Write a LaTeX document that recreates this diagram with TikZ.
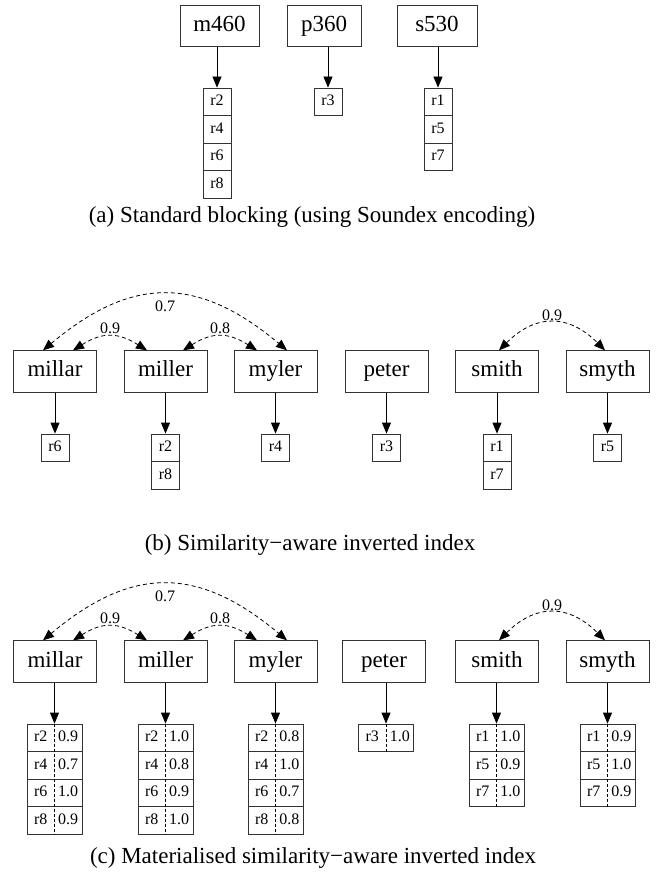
\documentclass[tikz,border=0pt]{standalone}
\usepackage{fontspec}
\setmainfont{Liberation Serif}
\usetikzlibrary{calc,arrows.meta}
\tikzset{>={Triangle[length=5.5pt,width=4.5pt]}}
\tikzset{
  key/.style={draw=black!80,minimum width=41.5pt,minimum height=20.75pt,
    inner sep=0pt,text height=8pt,text depth=2.5pt,
    font=\fontsize{11.5}{13}\selectfont},
  rec/.style={draw=black!80,minimum width=14pt,minimum height=13.75pt,
    inner sep=0pt,text height=5.5pt,text depth=1.6pt,
    font=\fontsize{8}{9}\selectfont},
  wrec/.style={rec,minimum width=27.5pt},
  sim/.style={<->,dash pattern=on 2pt off 1.5pt},
  wt/.style={inner sep=1pt,font=\fontsize{8}{9}\selectfont},
  subcap/.style={font=\fontsize{11.5}{13}\selectfont}
}
\newcommand{\recw}[2]{\makebox[13.75pt]{#1}\makebox[13.75pt]{#2}}

\begin{document}
\begin{tikzpicture}[x=0.5pt,y=-0.5pt]
\useasboundingbox (0,0) rectangle (662,876);
% (a) standard blocking
\node[key,minimum width=39.5pt] (m460) at (219.5,26) {m460};
\node[key,minimum width=37pt]   (p360) at (324,26) {p360};
\node[key,minimum width=40pt]   (s530) at (437,26) {s530};
\node[rec] (a-m1) at (217,101.75) {r2};
\node[rec] (a-m2) at (217,129.25) {r4};
\node[rec] (a-m3) at (217,156.75) {r6};
\node[rec] (a-m4) at (217,184.25) {r8};
\node[rec] (a-p1) at (328,101.75) {r3};
\node[rec] (a-s1) at (438,101.75) {r1};
\node[rec] (a-s2) at (438,129.25) {r5};
\node[rec] (a-s3) at (438,156.75) {r7};
\draw[->] (m460.south -| a-m1.north) -- (a-m1.north);
\draw[->] (p360.south -| a-p1.north) -- (a-p1.north);
\draw[->] (s530.south -| a-s1.north) -- (a-s1.north);
\node[subcap] (cap-a) at (312,217) {(a) Standard blocking (using Soundex encoding)};

% (b) similarity-aware inverted index
\node[key] (b-millar) at (55,371.5) {millar};
\node[key] (b-miller) at (165.5,371.5) {miller};
\node[key] (b-myler)  at (275.5,371.5) {myler};
\node[key] (b-peter)  at (386.5,371.5) {peter};
\node[key] (b-smith)  at (497,371.5) {smith};
\node[key] (b-smyth)  at (607.5,371.5) {smyth};
\node[rec] (b-millar-1) at (55,447.75) {r6};
\node[rec] (b-miller-1) at (165.5,447.75) {r2};
\node[rec] (b-miller-2) at (165.5,475.25) {r8};
\node[rec] (b-myler-1)  at (275.5,447.75) {r4};
\node[rec] (b-peter-1)  at (386.5,447.75) {r3};
\node[rec] (b-smith-1)  at (497,447.75) {r1};
\node[rec] (b-smith-2)  at (497,475.25) {r7};
\node[rec] (b-smyth-1)  at (607.5,447.75) {r5};
\draw[->] (b-millar) -- (b-millar-1);
\draw[->] (b-miller) -- (b-miller-1);
\draw[->] (b-myler) -- (b-myler-1);
\draw[->] (b-peter) -- (b-peter-1);
\draw[->] (b-smith) -- (b-smith-1);
\draw[->] (b-smyth) -- (b-smyth-1);
\draw[sim] ([xshift=-6pt]b-millar.north) to[out=40,in=140,looseness=1.22]
  node[wt,below=2pt] (b-w07) {0.7} ([xshift=5.75pt]b-myler.north);
\draw[sim] ([xshift=9pt]b-millar.north) to[out=32,in=148,looseness=1.2]
  node[wt,above] (b-w09) {0.9} ([xshift=-9.25pt]b-miller.north);
\draw[sim] ([xshift=8.75pt]b-miller.north) to[out=32,in=148,looseness=1.2]
  node[wt,above] (b-w08) {0.8} ([xshift=-9.25pt]b-myler.north);
\draw[sim] ([xshift=1pt]b-smith.north) to[out=45,in=135,looseness=1.25]
  node[wt,above] (b-w09s) {0.9} ([xshift=-1.25pt]b-smyth.north);
\node[subcap] (cap-b) at (310,545) {(b) Similarity−aware inverted index};

% (c) materialised similarity-aware inverted index
\node[key] (c-millar) at (55,661.5) {millar};
\node[key] (c-miller) at (165.5,661.5) {miller};
\node[key] (c-myler)  at (275.5,661.5) {myler};
\node[key] (c-peter)  at (384,661.5) {peter};
\node[key] (c-smith)  at (497,661.5) {smith};
\node[key] (c-smyth)  at (607.5,661.5) {smyth};
\node[wrec] (c-millar-1) at (54.5,737.75) {\recw{r2}{0.9}};
\node[wrec] (c-millar-2) at (54.5,765.25) {\recw{r4}{0.7}};
\node[wrec] (c-millar-3) at (54.5,792.75) {\recw{r6}{1.0}};
\node[wrec] (c-millar-4) at (54.5,820.25) {\recw{r8}{0.9}};
\node[wrec] (c-miller-1) at (165.5,737.75) {\recw{r2}{1.0}};
\node[wrec] (c-miller-2) at (165.5,765.25) {\recw{r4}{0.8}};
\node[wrec] (c-miller-3) at (165.5,792.75) {\recw{r6}{0.9}};
\node[wrec] (c-miller-4) at (165.5,820.25) {\recw{r8}{1.0}};
\node[wrec] (c-myler-1)  at (275.5,737.75) {\recw{r2}{0.8}};
\node[wrec] (c-myler-2)  at (275.5,765.25) {\recw{r4}{1.0}};
\node[wrec] (c-myler-3)  at (275.5,792.75) {\recw{r6}{0.7}};
\node[wrec] (c-myler-4)  at (275.5,820.25) {\recw{r8}{0.8}};
\node[wrec] (c-peter-1)  at (386,737.75) {\recw{r3}{1.0}};
\node[wrec] (c-smith-1)  at (496.5,737.75) {\recw{r1}{1.0}};
\node[wrec] (c-smith-2)  at (496.5,765.25) {\recw{r5}{0.9}};
\node[wrec] (c-smith-3)  at (496.5,792.75) {\recw{r7}{1.0}};
\node[wrec] (c-smyth-1)  at (607.5,737.75) {\recw{r1}{0.9}};
\node[wrec] (c-smyth-2)  at (607.5,765.25) {\recw{r5}{1.0}};
\node[wrec] (c-smyth-3)  at (607.5,792.75) {\recw{r7}{0.9}};
\draw[dash pattern=on 1.5pt off 1pt] (c-millar-1.north) -- (c-millar-4.south);
\draw[dash pattern=on 1.5pt off 1pt] (c-miller-1.north) -- (c-miller-4.south);
\draw[dash pattern=on 1.5pt off 1pt] (c-myler-1.north) -- (c-myler-4.south);
\draw[dash pattern=on 1.5pt off 1pt] (c-peter-1.north) -- (c-peter-1.south);
\draw[dash pattern=on 1.5pt off 1pt] (c-smith-1.north) -- (c-smith-3.south);
\draw[dash pattern=on 1.5pt off 1pt] (c-smyth-1.north) -- (c-smyth-3.south);
\draw[->] (c-millar.south -| c-millar-1.north) -- (c-millar-1.north);
\draw[->] (c-miller.south -| c-miller-1.north) -- (c-miller-1.north);
\draw[->] (c-myler.south -| c-myler-1.north) -- (c-myler-1.north);
\draw[->] (c-peter.south -| c-peter-1.north) -- (c-peter-1.north);
\draw[->] (c-smith.south -| c-smith-1.north) -- (c-smith-1.north);
\draw[->] (c-smyth.south -| c-smyth-1.north) -- (c-smyth-1.north);
\draw[sim] ([xshift=-6pt]c-millar.north) to[out=40,in=140,looseness=1.22]
  node[wt,below=2pt] (c-w07) {0.7} ([xshift=5.75pt]c-myler.north);
\draw[sim] ([xshift=9pt]c-millar.north) to[out=32,in=148,looseness=1.2]
  node[wt,above] (c-w09) {0.9} ([xshift=-9.25pt]c-miller.north);
\draw[sim] ([xshift=8.75pt]c-miller.north) to[out=32,in=148,looseness=1.2]
  node[wt,above] (c-w08) {0.8} ([xshift=-9.25pt]c-myler.north);
\draw[sim] ([xshift=1pt]c-smith.north) to[out=45,in=135,looseness=1.25]
  node[wt,above] (c-w09s) {0.9} ([xshift=-1.25pt]c-smyth.north);
\node[subcap] (cap-c) at (313,858) {(c) Materialised similarity−aware inverted index};
\end{tikzpicture}
\end{document}
